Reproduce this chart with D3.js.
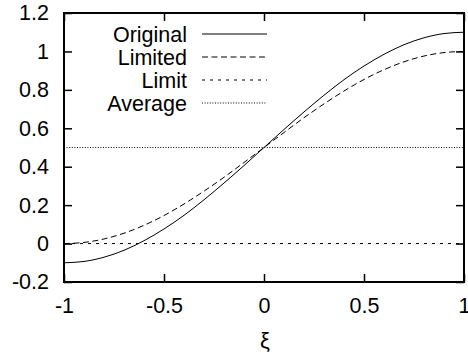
<!DOCTYPE html>
<html>
<head>
<meta charset="utf-8">
<title>Original vs Limited</title>
<script src="https://d3js.org/d3.v7.min.js"></script>
<style>
  body { margin: 0; background: #fff; }
  text { font-family: "Liberation Sans", Arial, sans-serif; }
</style>
</head>
<body>
<script>
// data
const xs = [-1, -0.9, -0.8, -0.7, -0.6, -0.5, -0.4, -0.3, -0.2, -0.1, 0,
            0.1, 0.2, 0.3, 0.4, 0.5, 0.6, 0.7, 0.8, 0.9, 1];
const original = [-0.1, -0.093, -0.071, -0.035, 0.015, 0.076, 0.147, 0.228, 0.315, 0.406, 0.5,
                  0.594, 0.685, 0.772, 0.853, 0.924, 0.985, 1.035, 1.071, 1.093, 1.1];
const limited = [0, 0.006, 0.024, 0.054, 0.095, 0.146, 0.206, 0.273, 0.345, 0.422, 0.5,
                 0.578, 0.655, 0.727, 0.794, 0.854, 0.905, 0.946, 0.976, 0.994, 1];
const limitY = 0;
const averageY = 0.5;
const xTicks = [-1, -0.5, 0, 0.5, 1];
const yTicks = [-0.2, 0, 0.2, 0.4, 0.6, 0.8, 1, 1.2];
const legendNames = ["Original", "Limited", "Limit", "Average"];

const width = 468, height = 358;
const plotLeft = 64, plotRight = 464, plotTop = 13, plotBottom = 282;
const fontSize = "21.5px";

const svg = d3.select("body").append("svg")
    .attr("width", width)
    .attr("height", height);

const x = d3.scaleLinear().domain([-1, 1]).range([plotLeft, plotRight]);
const y = d3.scaleLinear().domain([-0.2, 1.2]).range([plotBottom, plotTop]);

// series styles: solid, dashed, short dashed, dotted
const dashes = [null, "6,3.5", "3,5", "1,1.6"];

const series = [
    xs.map((v, i) => [v, original[i]]),
    xs.map((v, i) => [v, limited[i]]),
    [[-1, limitY], [1, limitY]],
    [[-1, averageY], [1, averageY]]
];

const line = d3.line()
    .x(d => x(d[0]))
    .y(d => y(d[1]))
    .curve(d3.curveMonotoneX);

svg.selectAll("path.series")
    .data(series)
    .enter()
    .append("path")
    .attr("class", "series")
    .attr("d", d => line(d))
    .attr("fill", "none")
    .attr("stroke", "#000")
    .attr("stroke-width", 1)
    .attr("stroke-dasharray", (d, i) => dashes[i]);

// axes with inward ticks, mirrored on top/right; plain hyphen for minus like gnuplot
const fmt = d => String(+d.toFixed(1));

const gl = svg.append("g").attr("transform", "translate(" + plotLeft + ",0)")
    .call(d3.axisLeft(y).tickValues(yTicks).tickSize(-8).tickPadding(15).tickFormat(fmt));
const gr = svg.append("g").attr("transform", "translate(" + plotRight + ",0)")
    .call(d3.axisRight(y).tickValues(yTicks).tickSize(-8).tickFormat(""));
const gb = svg.append("g").attr("transform", "translate(0," + plotBottom + ")")
    .call(d3.axisBottom(x).tickValues(xTicks).tickSize(-8).tickPadding(16).tickFormat(fmt));
const gt = svg.append("g").attr("transform", "translate(0," + plotTop + ")")
    .call(d3.axisTop(x).tickValues(xTicks).tickSize(-8).tickFormat(""));

[gl, gr, gb, gt].forEach(g => {
    g.select(".domain").remove();
    g.selectAll(".tick line").attr("stroke", "#000").attr("stroke-width", 1.5);
    g.selectAll(".tick text")
        .attr("fill", "#000")
        .style("font-size", fontSize)
        .style("font-family", "'Liberation Sans', Arial, sans-serif");
});

// frame
svg.append("rect")
    .attr("x", plotLeft).attr("y", plotTop)
    .attr("width", plotRight - plotLeft).attr("height", plotBottom - plotTop)
    .attr("fill", "none")
    .attr("stroke", "#000")
    .attr("stroke-width", 2);

// legend
const legend = svg.selectAll("g.legend")
    .data(legendNames)
    .enter()
    .append("g")
    .attr("class", "legend")
    .attr("transform", (d, i) => "translate(0," + (34 + i * 23) + ")");

legend.append("text")
    .attr("x", 187)
    .attr("y", 7.5)
    .attr("text-anchor", "end")
    .style("font-size", fontSize)
    .text(d => d);

legend.append("line")
    .attr("x1", 202).attr("x2", 267)
    .attr("y1", 0).attr("y2", 0)
    .attr("stroke", "#000")
    .attr("stroke-width", 1)
    .attr("stroke-dasharray", (d, i) => dashes[i]);

// x label
svg.append("text")
    .attr("x", 265)
    .attr("y", 348)
    .attr("text-anchor", "middle")
    .style("font-size", "22px")
    .text("ξ");
</script>
</body>
</html>
